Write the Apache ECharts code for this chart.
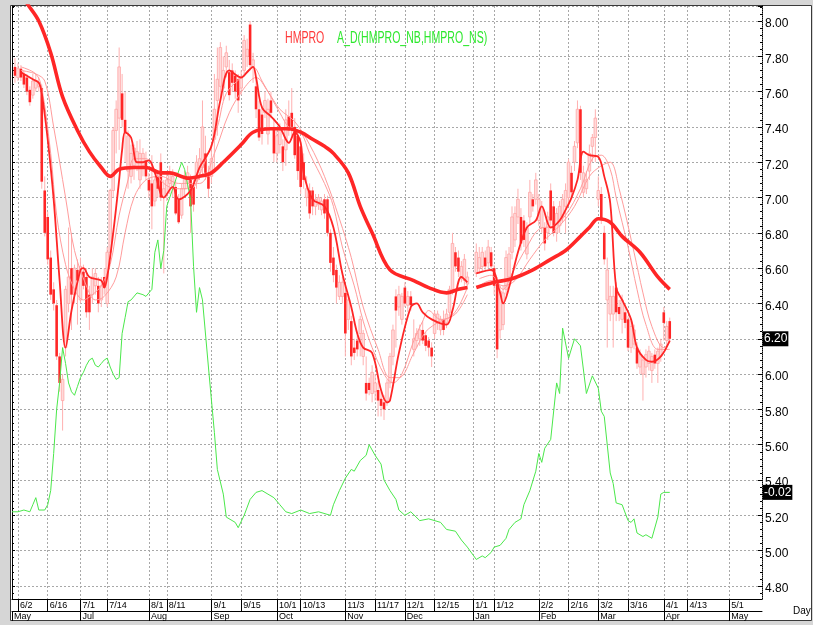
<!DOCTYPE html>
<html><head><meta charset="utf-8">
<script src="https://cdn.jsdelivr.net/npm/echarts@6/dist/echarts.min.js"></script>
<style>html,body{margin:0;padding:0;background:#fff}#c{width:813px;height:625px}</style>
</head><body><div id="c"></div>
<script>
// ---- axis domain: weekdays from 2008-05-29 ----
const dayCount = 253;
const categories = [];
(function(){let d=Date.UTC(2008,4,29);while(categories.length<dayCount){const t=new Date(d),w=t.getUTCDay();if(w!==0&&w!==6)categories.push((t.getUTCMonth()+1)+'/'+t.getUTCDate()+'/'+t.getUTCFullYear());d+=86400000;}})();

// ---- tick labels ----
const dateTickIdx = [2,12,23,32,46,52,67,77,89,97,112,122,132,142,155,162,177,187,197,207,219,227,241];
const dateTickText = ['6/2','6/16','7/1','7/14','8/1','8/11','9/1','9/15','10/1','10/13','11/3','11/17','12/1','12/15','1/1','1/12','2/2','2/16','3/2','3/16','4/1','4/13','5/1'];
const monthTickIdx = [0,23,46,67,89,112,132,155,177,197,219,241];
const monthTickText = ['May','Jul','Aug','Sep','Oct','Nov','Dec','Jan','Feb','Mar','Apr','May'];

// ---- HMPRO daily prices (index = weekday position) ----
const openP = [null,7.74,7.68,7.73,7.70,7.68,7.61,7.58,7.62,7.63,
7.62,7.04,6.89,6.66,6.48,6.39,6.10,5.85,6.15,6.40,
6.60,6.45,6.59,6.42,6.58,6.55,6.45,6.45,6.50,6.50,
6.42,6.55,6.40,6.69,7.04,7.38,7.45,7.59,7.44,7.15,
7.12,7.18,7.20,7.10,7.18,7.21,7.10,7.08,6.98,7.12,
7.20,7.00,7.02,7.08,7.05,7.06,6.99,6.90,7.05,7.08,
7.10,7.06,7.10,7.14,7.17,7.25,7.12,7.12,7.33,7.55,
7.63,7.62,7.74,7.71,7.72,7.69,7.67,7.62,7.72,7.80,
7.98,7.74,7.63,7.50,7.47,7.48,7.36,7.55,7.40,7.25,
7.30,7.29,7.27,7.46,7.48,7.40,7.35,7.29,7.20,7.00,
7.04,7.04,6.95,6.96,6.93,6.99,6.99,6.80,6.66,6.59,
6.44,6.44,6.46,6.31,6.30,6.15,6.19,6.23,6.10,5.95,
5.95,5.89,5.90,5.91,5.86,5.84,5.85,5.95,6.10,6.44,
6.38,6.31,6.49,6.39,6.44,6.14,6.19,6.20,6.25,6.22,
6.19,6.15,6.23,6.29,6.25,6.31,6.29,6.35,6.48,6.69,
6.66,6.55,6.53,6.51,null,null,6.57,6.60,6.61,6.66,
6.63,6.69,6.60,6.51,6.25,6.28,6.48,6.55,6.69,6.76,
6.89,6.89,6.87,6.68,6.89,6.99,6.99,6.87,6.83,6.83,
6.80,7.04,6.95,6.80,6.84,6.89,6.95,7.00,7.14,7.20,
7.31,7.50,7.03,7.05,7.15,7.29,7.34,6.99,7.02,6.80,
6.42,6.34,6.34,6.49,6.38,6.31,6.35,6.31,6.15,6.17,
6.15,6.04,6.00,6.04,6.06,6.02,6.11,6.06,6.10,6.35,
6.19,6.30];
const highP = [null,7.79,7.76,7.75,7.72,7.70,7.63,7.70,7.70,7.68,
7.64,7.12,6.92,6.70,6.52,6.42,6.12,6.00,6.50,6.83,
6.80,6.62,6.65,6.66,6.62,6.60,6.50,6.60,6.60,6.55,
6.55,6.60,6.72,7.05,7.40,7.55,7.85,7.70,7.60,7.38,
7.30,7.30,7.32,7.33,7.28,7.26,7.14,7.24,7.12,7.15,
7.25,7.10,7.15,7.18,7.16,7.10,7.02,7.08,7.15,7.18,
7.13,7.10,7.24,7.28,7.55,7.35,7.18,7.30,7.70,7.85,
7.88,7.80,7.86,7.78,7.76,7.72,7.70,7.72,7.92,7.90,
8.00,7.82,7.68,7.55,7.52,7.60,7.56,7.60,7.45,7.40,
7.42,7.33,7.50,7.55,7.62,7.45,7.38,7.34,7.25,7.12,
7.08,7.06,7.02,7.02,7.00,7.02,7.01,6.82,6.72,6.62,
6.56,6.55,6.50,6.45,6.33,6.20,6.22,6.33,6.25,6.10,
5.98,6.05,6.00,5.96,5.90,5.88,5.97,6.12,6.28,6.48,
6.50,6.46,6.52,6.47,6.47,6.31,6.26,6.28,6.30,6.24,
6.21,6.18,6.36,6.36,6.33,6.36,6.37,6.50,6.80,6.72,
6.70,6.64,6.68,6.58,null,null,6.74,6.72,6.72,6.70,
6.76,6.72,6.62,6.55,6.50,6.50,6.70,6.72,6.95,6.95,
7.05,6.94,6.90,6.86,7.10,7.02,7.14,7.02,6.98,6.86,
6.92,7.08,6.98,6.94,6.98,7.02,7.08,7.22,7.18,7.32,
7.55,7.52,7.18,7.15,7.30,7.36,7.50,7.12,7.06,6.84,
6.66,6.50,6.50,6.52,6.42,6.45,6.40,6.33,6.30,6.28,
6.18,6.14,6.10,6.14,6.16,6.12,6.14,6.15,6.20,6.38,
6.30,6.32];
const lowP = [null,7.65,7.66,7.66,7.62,7.58,7.52,7.56,7.60,7.60,
7.05,6.78,6.62,6.42,6.36,6.08,5.90,5.68,6.10,6.35,
6.25,6.40,6.28,6.40,6.48,6.32,6.25,6.40,6.45,6.35,
6.38,6.45,6.38,6.65,7.00,7.25,7.27,7.40,7.20,7.05,
7.08,7.10,7.15,7.05,7.12,7.10,7.00,6.82,6.95,7.00,
6.98,6.57,6.98,7.02,7.00,6.90,6.85,6.88,7.00,7.05,
6.80,6.92,7.05,7.10,7.12,7.10,7.00,7.08,7.15,7.35,
7.55,7.55,7.68,7.55,7.60,7.56,7.48,7.58,7.70,7.74,
7.72,7.65,7.45,7.32,7.30,7.45,7.30,7.45,7.20,7.20,
7.25,7.15,7.18,7.35,7.35,7.22,7.10,7.02,7.05,6.95,
6.88,6.90,6.90,6.93,6.90,6.88,6.78,6.58,6.52,6.40,
6.42,6.40,6.10,6.25,6.05,6.08,6.10,6.10,6.05,5.85,
5.88,5.84,5.85,5.76,5.76,5.74,5.82,5.92,6.05,6.15,
6.33,6.28,6.38,6.35,6.36,6.10,6.15,6.16,6.17,6.13,
6.10,6.04,6.20,6.25,6.22,6.22,6.26,6.32,6.45,6.58,
6.55,6.52,6.50,6.48,null,null,6.55,6.57,6.58,6.58,
6.60,6.58,6.45,6.09,6.20,6.25,6.45,6.50,6.65,6.72,
6.85,6.70,6.72,6.65,6.85,6.92,6.96,6.84,6.80,6.70,
6.76,6.84,6.78,6.75,6.80,6.86,6.80,6.95,7.00,7.15,
7.28,7.10,7.00,7.02,7.10,7.20,7.20,6.95,6.85,6.62,
6.15,6.30,6.15,6.30,6.30,6.23,6.26,6.13,6.12,6.14,
6.03,6.00,5.85,5.98,6.02,5.95,6.03,5.95,6.07,6.19,
6.16,6.18];
const closeP = [null,7.69,7.73,7.68,7.64,7.60,7.54,7.66,7.66,7.65,
7.09,6.80,6.65,6.45,6.40,6.10,5.95,5.97,6.48,6.55,
6.45,6.60,6.53,6.61,6.50,6.35,6.35,6.55,6.57,6.40,
6.50,6.49,6.69,7.04,7.38,7.50,7.74,7.44,7.37,7.35,
7.25,7.28,7.26,7.25,7.25,7.12,7.04,6.95,7.10,7.05,
7.00,7.05,7.10,7.14,7.12,6.91,6.86,7.05,7.12,7.14,
6.95,6.96,7.20,7.22,7.40,7.14,7.05,7.22,7.50,7.67,
7.85,7.72,7.82,7.58,7.65,7.60,7.55,7.68,7.89,7.84,
7.75,7.78,7.50,7.34,7.36,7.55,7.50,7.48,7.25,7.35,
7.38,7.20,7.44,7.38,7.40,7.24,7.15,7.06,7.10,7.05,
6.91,6.95,6.99,7.00,6.98,6.91,6.80,6.63,6.56,6.49,
6.52,6.52,6.23,6.42,6.10,6.12,6.14,6.31,6.23,5.89,
5.91,6.01,5.95,5.85,5.82,5.80,5.95,6.10,6.25,6.36,
6.45,6.44,6.40,6.44,6.39,6.20,6.23,6.25,6.19,6.16,
6.15,6.10,6.34,6.34,6.31,6.25,6.34,6.48,6.74,6.61,
6.58,6.61,6.65,6.55,null,null,6.69,6.66,6.69,6.61,
6.72,6.61,6.50,6.14,6.47,6.46,6.66,6.68,6.89,6.91,
6.99,6.74,6.76,6.83,7.03,6.95,7.10,6.99,6.95,6.74,
6.89,6.87,6.80,6.91,6.95,6.99,7.04,7.20,7.03,7.29,
7.50,7.14,7.14,7.10,7.25,7.34,7.45,7.04,6.88,6.65,
6.59,6.44,6.44,6.35,6.34,6.42,6.29,6.15,6.27,6.25,
6.06,6.11,6.08,6.11,6.13,6.10,6.06,6.13,6.17,6.29,
6.27,6.20];

// ---- moving averages: [dayIndex, value] ----
const maLong = [[0,8.22],[5,8.10],[9,8.00],[13,7.82],[17,7.57],[22,7.38],[26,7.26],[30,7.17],[33,7.12],[36,7.16],[41,7.17],[45,7.17],[50,7.14],[53,7.14],[59,7.11],[63,7.12],[67,7.14],[71,7.20],[77,7.30],[81,7.37],[87,7.39],[93,7.39],[97,7.37],[101,7.33],[105,7.29],[108,7.25],[113,7.14],[117,6.95],[121,6.80],[127,6.59],[135,6.53],[140,6.49],[146,6.46],[150,6.48],[153,6.49],[154,'-'],[156,6.49],[162,6.52],[168,6.54],[175,6.59],[181,6.65],[186,6.70],[191,6.78],[194,6.83],[197,6.88],[201,6.86],[205,6.78],[211,6.69],[217,6.55],[221,6.48]];
const maShort = [[3,7.71],[7,7.67],[9,7.65],[10,7.59],[12,7.33],[14,6.99],[16,6.53],[18,6.15],[20,6.36],[23,6.59],[24,6.60],[26,6.55],[30,6.53],[31,6.49],[32,6.55],[34,6.80],[36,7.10],[37,7.27],[38,7.37],[40,7.34],[42,7.20],[44,7.20],[46,7.21],[48,7.14],[51,7.00],[54,7.06],[56,6.99],[60,7.04],[63,7.17],[67,7.29],[70,7.55],[73,7.72],[77,7.68],[79,7.71],[81,7.74],[82,7.68],[84,7.51],[87,7.46],[90,7.40],[92,7.33],[93,7.31],[95,7.37],[97,7.31],[98,7.14],[101,6.99],[105,6.95],[108,6.83],[111,6.57],[114,6.38],[116,6.23],[118,6.15],[121,6.12],[124,5.91],[126,5.84],[127,5.85],[130,6.12],[134,6.38],[136,6.40],[138,6.35],[141,6.31],[146,6.28],[148,6.36],[151,6.55],[153,6.52],[154,'-'],[156,6.57],[161,6.59],[164,6.46],[165,6.40],[167,6.49],[170,6.69],[173,6.83],[176,6.87],[178,6.95],[181,6.83],[184,6.87],[186,6.93],[188,7.00],[190,7.10],[192,7.26],[194,7.24],[197,7.23],[199,7.12],[201,6.97],[203,6.49],[205,6.42],[208,6.31],[210,6.15],[213,6.08],[215,6.07],[218,6.10],[221,6.19]];
const maMidA = [[3,7.74],[8,7.70],[10,7.62],[13,7.25],[15,6.90],[18,6.62],[21,6.48],[24,6.42],[27,6.45],[30,6.50],[33,6.62],[36,6.90],[39,7.10],[41,7.22],[45,7.22],[48,7.15],[51,7.08],[55,7.05],[60,7.05],[64,7.17],[69,7.40],[72,7.59],[77,7.68],[81,7.74],[84,7.66],[87,7.57],[90,7.48],[93,7.40],[97,7.37],[100,7.25],[105,7.08],[108,6.95],[111,6.72],[115,6.50],[118,6.30],[121,6.15],[125,6.00],[128,5.95],[131,6.00],[135,6.19],[138,6.30],[140,6.36],[144,6.31],[147,6.32],[150,6.38],[153,6.49],[154,'-'],[157,6.54],[161,6.56],[165,6.48],[168,6.57],[173,6.72],[177,6.82],[182,6.84],[186,6.90],[191,7.05],[195,7.22],[198,7.24],[201,7.16],[203,7.00],[207,6.72],[210,6.48],[213,6.28],[217,6.14],[221,6.14]];
const maMidB = [[3,7.72],[8,7.70],[11,7.66],[14,7.40],[18,7.00],[21,6.70],[25,6.50],[28,6.42],[31,6.44],[35,6.55],[38,6.80],[41,7.00],[45,7.10],[50,7.12],[56,7.08],[63,7.08],[68,7.25],[73,7.48],[78,7.62],[82,7.68],[86,7.60],[90,7.50],[95,7.43],[100,7.30],[105,7.12],[110,6.88],[114,6.66],[118,6.38],[123,6.14],[127,5.98],[130,5.98],[135,6.12],[139,6.24],[144,6.30],[149,6.34],[153,6.45],[154,'-'],[157,6.50],[161,6.53],[165,6.50],[169,6.53],[174,6.65],[179,6.76],[184,6.84],[189,6.95],[194,7.12],[198,7.18],[201,7.20],[204,7.05],[209,6.69],[212,6.46],[215,6.27],[219,6.15],[221,6.18]];

// ---- A_D(HMPRO_NB,HMPRO_NS) as drawn on the price scale ----
const adLine = [[0,5.22],[2,5.22],[4,5.23],[6,5.22],[7,5.26],[8,5.30],[9,5.23],[11,5.23],[12,5.26],[13,5.34],[14,5.55],[15,5.80],[16,5.95],[17,6.15],[18,6.06],[19,5.95],[20,5.90],[21,5.88],[22,5.93],[23,5.98],[24,6.01],[25,6.05],[26,6.08],[27,6.09],[28,6.05],[29,6.04],[30,6.06],[31,6.08],[32,6.09],[33,6.04],[34,6.00],[35,5.97],[36,5.98],[37,6.23],[38,6.32],[39,6.41],[40,6.42],[42,6.46],[44,6.45],[45,6.44],[47,6.48],[48,6.69],[49,6.76],[50,6.60],[51,6.70],[52,6.95],[54,7.05],[56,7.15],[57,7.20],[58,7.16],[60,6.99],[61,6.61],[62,6.35],[63,6.49],[64,6.42],[66,6.04],[68,5.67],[69,5.46],[71,5.32],[72,5.19],[75,5.16],[76,5.13],[78,5.20],[80,5.29],[82,5.33],[84,5.34],[86,5.32],[88,5.30],[90,5.26],[92,5.22],[94,5.21],[97,5.23],[100,5.21],[103,5.22],[107,5.20],[108,5.26],[110,5.34],[112,5.41],[114,5.46],[115,5.45],[117,5.51],[119,5.54],[120,5.60],[122,5.54],[124,5.49],[125,5.40],[127,5.34],[129,5.29],[130,5.23],[132,5.20],[134,5.22],[137,5.17],[140,5.18],[144,5.16],[146,5.12],[149,5.11],[151,5.06],[153,5.02],[156,4.95],[158,4.97],[159,4.96],[161,4.99],[162,5.02],[164,5.03],[166,5.07],[167,5.12],[169,5.16],[171,5.18],[172,5.26],[174,5.34],[176,5.45],[177,5.55],[178,5.50],[179,5.58],[181,5.63],[183,5.95],[184,5.89],[185,6.26],[187,6.09],[189,6.20],[191,6.16],[193,5.89],[195,5.99],[197,5.92],[198,5.79],[199,5.76],[201,5.44],[202,5.38],[203,5.27],[205,5.26],[207,5.17],[208,5.16],[209,5.18],[210,5.10],[212,5.08],[213,5.09],[215,5.07],[217,5.19],[218,5.32],[219,5.33],[221,5.33]];
const adLastText = '-0.02';

// ---------------------------------------------------------------
const RED = '#ff2626', PINK = '#ff9c9c', GREEN = '#4be84b';
const NARROW = "'Liberation Sans Narrow','Liberation Sans',Arial,sans-serif";
const dateMap = {}; dateTickIdx.forEach((k,i)=>dateMap[k]=dateTickText[i]);
const monthMap = {}; monthTickIdx.forEach((k,i)=>monthMap[k]=monthTickText[i]);

const candleData = [];
for (let i=0;i<closeP.length;i++) if (openP[i]!=null) candleData.push([i,openP[i],closeP[i],lowP[i],highP[i]]);
const lastClose = closeP[closeP.length-1];
const lastAD = adLine[adLine.length-1][1];

function ma(name,data,color,width,z){
  return {type:'line',name,data,symbol:'none',showSymbol:false,smooth:0.35,connectNulls:false,
    lineStyle:{color,width},z,silent:true,animation:false};
}
function valueBox(yVal, text){
  return {silent:true,symbol:'none',animation:false,
    lineStyle:{color:'rgba(0,0,0,0)',width:1,type:'solid'},
    data:[{yAxis:yVal}],
    label:{show:true,position:'end',distance:1,formatter:()=>text,
      backgroundColor:'#000',color:'#fff',padding:[2,1,1,1],fontSize:12,fontFamily:NARROW}};
}
const yMin = 4.726, yMax = 8.085;
const fmt = v => Math.abs(v*5-Math.round(v*5))<1e-6 ? v.toFixed(2) : '';

const chart = echarts.init(document.getElementById('c'), null, {renderer:'canvas'});
chart.setOption({
  animation:false,
  backgroundColor:'transparent',
  grid:{left:12,right:51,top:6,bottom:26,containLabel:false},
  xAxis:[{
    type:'category',data:categories,boundaryGap:false,position:'bottom',
    axisLine:{show:true,onZero:false,lineStyle:{color:'#000',width:1}},
    axisTick:{show:true,interval:(i)=>dateMap[i]!==undefined,length:12,lineStyle:{color:'#000'}},
    axisLabel:{show:true,interval:(i)=>dateMap[i]!==undefined,formatter:(v,i)=>dateMap[i]||'',
      align:'left',margin:2,padding:[0,0,0,2],fontSize:9,fontFamily:NARROW,color:'#000'},
    splitLine:{show:true,interval:(i)=>dateMap[i]!==undefined,lineStyle:{color:'#a8a8a8',type:[2,2]}}
  },{
    type:'category',data:categories,boundaryGap:false,position:'bottom',offset:12,
    axisLine:{show:true,onZero:false,lineStyle:{color:'#000',width:1}},
    axisTick:{show:true,interval:(i)=>monthMap[i]!==undefined,length:10,lineStyle:{color:'#000'}},
    axisLabel:{show:true,interval:(i)=>monthMap[i]!==undefined,formatter:(v,i)=>monthMap[i]||'',
      align:'left',margin:1,padding:[0,0,0,2],fontSize:9,fontFamily:NARROW,color:'#000'},
    splitLine:{show:false}
  }],
  yAxis:[{
    type:'value',position:'right',min:yMin,max:yMax,splitNumber:17,
    axisLine:{show:true,lineStyle:{color:'#000',type:[1,1]}},
    axisTick:{show:true,inside:true,length:4,lineStyle:{color:'#000'}},
    minorTick:{show:true,splitNumber:5,length:2,lineStyle:{color:'#000'}},
    splitLine:{show:true,lineStyle:{color:'#a8a8a8',type:[2,2]}},
    axisLabel:{show:true,margin:3,formatter:fmt,fontSize:12,fontFamily:NARROW,color:'#000',verticalAlign:'top',lineHeight:6}
  },{
    type:'value',position:'left',min:yMin,max:yMax,splitNumber:17,
    axisLine:{show:true,lineStyle:{color:'#000'}},
    axisTick:{show:true,inside:true,length:3,lineStyle:{color:'#000'}},
    minorTick:{show:true,splitNumber:5,length:2,lineStyle:{color:'#000'}},
    splitLine:{show:false},axisLabel:{show:false}
  }],
  series:[
    {type:'custom',name:'HMPRO',data:candleData,clip:true,z:2,silent:true,
     encode:{x:0,y:[1,2,3,4]},
     renderItem:(params,api)=>{
       const x=api.value(0),o=api.value(1),c=api.value(2),l=api.value(3),h=api.value(4);
       const pH=api.coord([x,h]),pL=api.coord([x,l]),pO=api.coord([x,o]),pC=api.coord([x,c]);
       const up=c>=o,w=2.6;
       const top=Math.min(pO[1],pC[1]),ht=Math.max(1,Math.abs(pO[1]-pC[1]));
       return {type:'group',children:[
         {type:'line',shape:{x1:pH[0],y1:pH[1],x2:pL[0],y2:pL[1]},style:{stroke:'#ffb0b0',lineWidth:1}},
         {type:'rect',shape:{x:pO[0]-w/2,y:top,width:w,height:ht},
          style:up?{fill:'#ffdada',stroke:'#ffa6a6',lineWidth:0.8}:{fill:RED}}
       ]};
     }},
    ma('MA mid B',maMidB,PINK,1,3),
    ma('MA mid A',maMidA,PINK,1,3),
    ma('MA short',maShort,RED,1.8,4),
    Object.assign(ma('MA long',maLong,RED,3.6,5),{markLine:valueBox(lastClose,lastClose.toFixed(2))}),
    {type:'line',name:'A_D',data:adLine,symbol:'none',showSymbol:false,smooth:false,
     lineStyle:{color:GREEN,width:1},z:3,silent:true,
     markLine:valueBox(lastAD,adLastText)}
  ],
  graphic:[
    {type:'rect',z:-100,silent:true,shape:{x:0,y:0,width:813,height:625},style:{fill:'#d6d6d6'}},
    {type:'rect',z:-99,silent:true,shape:{x:10.5,y:5.5,width:801,height:615},style:{fill:'#fff',stroke:'#3a3a3a',lineWidth:1}},
    {type:'text',z:10,silent:true,x:285,y:31,scaleX:0.66,style:{text:'HMPRO',fill:'#ff3a3a',font:"16px 'Liberation Sans',Arial,sans-serif"}},
    {type:'text',z:10,silent:true,x:337,y:31,scaleX:0.66,style:{text:'A_D(HMPRO_NB,HMPRO_NS)',fill:'#2ee82e',font:"16px 'Liberation Sans',Arial,sans-serif"}},
    {type:'text',z:10,silent:true,x:793,y:606,style:{text:'Day',fill:'#000',font:"10px "+NARROW}}
  ]
});
</script>
</body></html>
